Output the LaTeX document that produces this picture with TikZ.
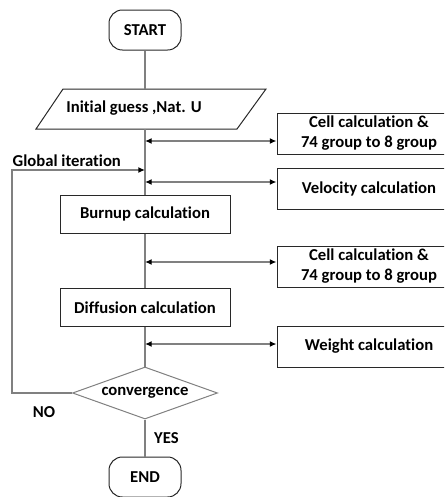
\documentclass[tikz,border=0pt]{standalone}
\usepackage{fontspec}
\setmainfont[Ligatures=NoCommon]{Carlito}
\usetikzlibrary{shapes.geometric,arrows.meta,positioning}

\definecolor{linegray}{RGB}{128,128,128}
\definecolor{boxline}{RGB}{40,40,40}

\tikzset{
  termbox/.style={draw=boxline, line width=0.75pt, rounded corners=10pt,
    minimum width=54pt, minimum height=30pt, fill=white},
  procbox/.style={draw=boxline, line width=0.75pt, minimum width=127.5pt,
    minimum height=28.5pt, fill=white},
  sidebox/.style={draw=boxline, line width=0.75pt, minimum width=138pt,
    minimum height=30.75pt, align=center, fill=white, inner sep=2pt},
  decbox/.style={draw=linegray, line width=0.75pt, diamond, aspect=2.8,
    minimum width=108.75pt, minimum height=39pt, inner sep=0pt, fill=white},
  flow/.style={draw=linegray, line width=1pt},
  flowarrow/.style={flow, -{Latex[color=black,length=5pt,width=4.5pt]}},
  biarrow/.style={flow, {Latex[color=black,length=5pt,width=4.5pt]}-{Latex[color=black,length=5pt,width=4.5pt]}}
}

\begin{document}
\begin{tikzpicture}[x=0.75pt,y=-0.75pt,font=\fontsize{12.5}{15}\selectfont\bfseries]
  \clip (0,0) rectangle (444,497);

  % main column
  \node[termbox] (start) at (145,30) {START};
  \coordinate (intop) at (145,89);
  \coordinate (inbot) at (145,129);
  \draw[draw=boxline, line width=0.75pt] (63,89) -- (266,89) -- (237,129) -- (36,129) -- cycle;
  \node (init) at (134,108) {Initial guess ,Nat. U};
  \node[procbox] (burnup) at (145,214) {Burnup calculation};
  \node[procbox] (diffusion) at (145,307.5) {Diffusion calculation};
  \node[decbox] (conv) at (145,393) {convergence};
  \node[termbox] (end) at (145,477) {END};

  % side boxes
  \node[sidebox] (cellA) at (369,133.5) {Cell calculation \&\\74 group to 8 group};
  \node[sidebox] (velocity) at (369,188.5) {Velocity calculation};
  \node[sidebox] (cellB) at (369,266.5) {Cell calculation \&\\74 group to 8 group};
  \node[sidebox] (weight) at (369,346.5) {Weight calculation};

  % points on the main line
  \coordinate (m1) at (145,141);
  \coordinate (gi) at (145,170);
  \coordinate (m2) at (145,182);
  \coordinate (m3) at (145,262);
  \coordinate (m4) at (145,344);
  \coordinate (back) at (12,393);

  \draw[flow] (start) -- (intop);
  \draw[flow] (inbot) -- (burnup);
  \draw[flow] (burnup) -- (diffusion);
  \draw[flow] (diffusion) -- (conv);
  \draw[flow] (conv) -- node[right=3pt] {YES} (end);

  \draw[biarrow] (m1) -- (m1 -| cellA.west);
  \draw[biarrow] (m2) -- (m2 -| velocity.west);
  \draw[biarrow] (m3) -- (m3 -| cellB.west);
  \draw[biarrow] (m4) -- (m4 -| weight.west);

  % global iteration loop
  \draw[flowarrow] (conv.west) -- (back) |- (gi);
  \node[anchor=west] (glob) at (8,161) {Global iteration};
  \node (no) at (44,412) {NO};
\end{tikzpicture}
\end{document}
